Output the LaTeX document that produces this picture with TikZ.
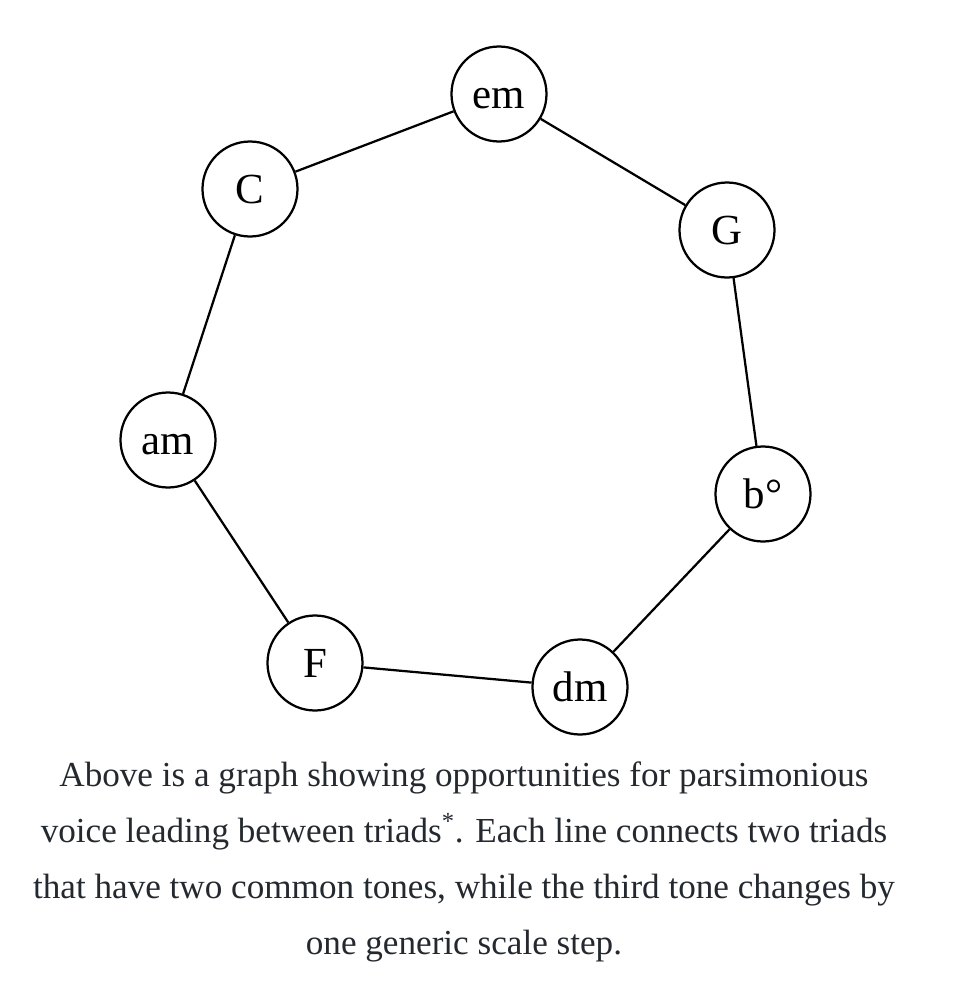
\documentclass[tikz,border=0pt]{standalone}
\usepackage{fontspec}
\setmainfont{Liberation Serif}
\usepackage{tikz}
\usepackage{xcolor}
\usetikzlibrary{positioning}
\definecolor{captiongray}{RGB}{36,41,47}

\begin{document}
\begin{tikzpicture}[on grid, line width=1.6pt,
    triad/.style={circle, draw, minimum size=2.375cm, inner sep=0pt, text height=27pt, text depth=7pt, font=\fontsize{30.5}{36}\selectfont},
    caption/.style={align=center, text=captiongray, font=\fontsize{25}{39.8}\selectfont}]
    \useasboundingbox (-12.475,-22.5) rectangle (11.625,2.35);
    \node[triad] (em) at (0,0) {em};
    \node[triad, below left=2.375cm and 6.225cm of em] (C) {C};
    \node[triad, below right=3.4cm and 5.7cm of em] (G) {G};
    \node[triad, below left=6.275cm and 2.05cm of C] (am) {am};
    \node[triad, below right=6.6cm and 0.9cm of G] (b) {b°};
    \node[triad, below right=5.575cm and 3.675cm of am] (F) {F};
    \node[triad, below left=4.825cm and 4.575cm of b] (dm) {dm};
    \node[caption, below left=19.2cm and 0.875cm of em] (cap) {Above is a graph showing opportunities for parsimonious\\
        voice leading between triads\textsuperscript{*}. Each line connects two triads\\
        that have two common tones, while the third tone changes by\\
        one generic scale step.};

    \draw (em) -- (C);
    \draw (em) -- (G);
    \draw (G) -- (b);
    \draw (b) -- (dm);
    \draw (dm) -- (F);
    \draw (F) -- (am);
    \draw (am) -- (C);
\end{tikzpicture}
\end{document}
